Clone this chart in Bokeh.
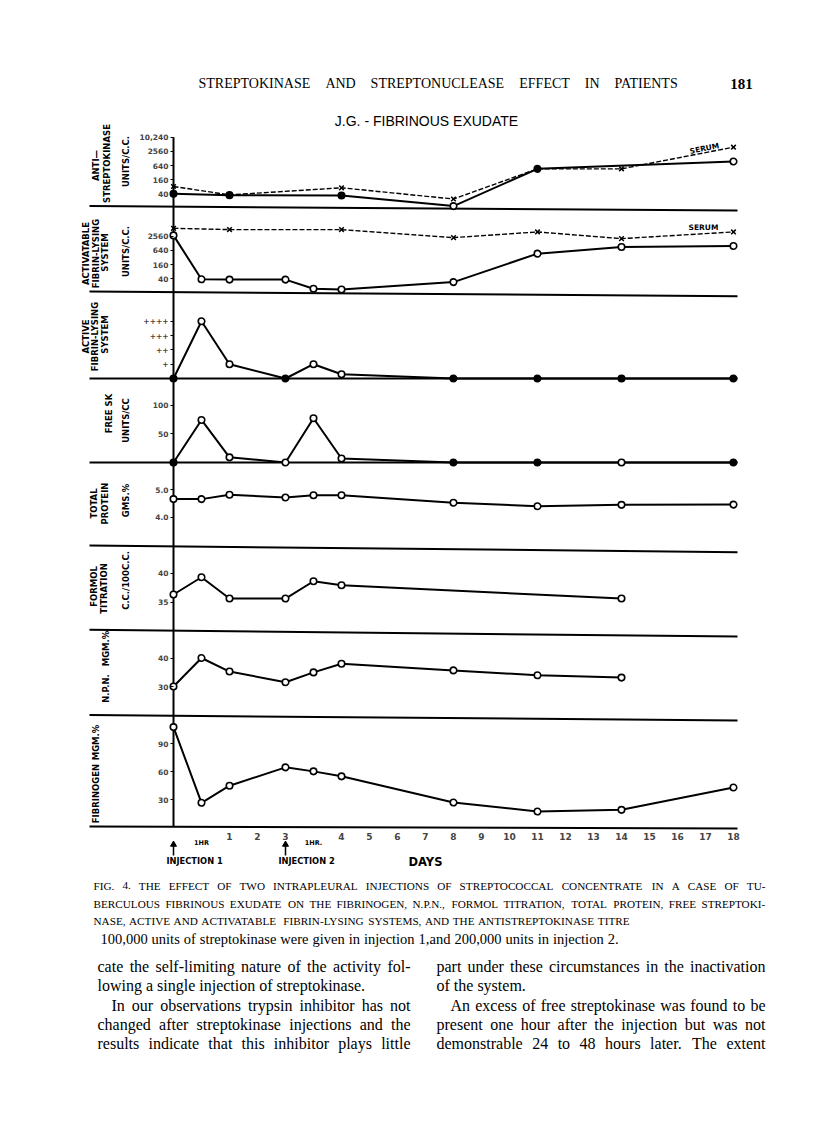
import math
from bokeh.plotting import figure
from bokeh.models import Range1d, LinearAxis, LogAxis, LogScale, FixedTicker
from bokeh.core.properties import value
from bokeh.embed import file_html
from bokeh.resources import INLINE

# ----------------------------------------------------------------- DATA
# ordinal time axis: injection 1, 1 hr later, days 1..3 (injection 2 on day 3), 1 hr later, days 4..18
time_axis = ["0", "1HR", "1", "2", "3", "1HR.", "4", "5", "6", "7", "8", "9",
             "10", "11", "12", "13", "14", "15", "16", "17", "18"]
day_labels = ["1", "2", "3", "4", "5", "6", "7", "8", "9", "10", "11", "12",
              "13", "14", "15", "16", "17", "18"]
hour_labels = ["1HR", "1HR."]
injection_times = ["0", "3"]
injection_labels = ["INJECTION 1", "INJECTION 2"]

sample_times = ["0", "1HR", "1", "3", "1HR.", "4", "8", "11", "14", "18"]

# antistreptokinase (units/cc, log scale)
antisk_times = ["0", "1", "4", "8", "11", "18"]
antisk_exudate = [40, 35, 34, 12, 462, 948]
antisk_exudate_filled = [True, True, True, False, True, False]
antisk_serum_times = ["0", "1", "4", "8", "11", "14", "18"]
antisk_serum = [82, 36, 72, 24, 462, 462, 3850]

# activatable fibrin-lysing system (units/cc, log scale)
activ_exudate = [2800, 38, 37, 37, 15, 14, 29, 468, 900, 992]
activ_exudate_filled = [False, False, False, False, False, False, False, False, False, False]
activ_serum_times = ["0", "1", "4", "8", "11", "14", "18"]
activ_serum = [5600, 4930, 4930, 2250, 3920, 2040, 3920]

# active fibrin-lysing system (grade + .. ++++)
active_lysis = [0, 4, 1, 0, 1, 0.3, 0, 0, 0, 0]
active_filled = [True, False, False, True, False, False, True, True, True, True]

# free streptokinase (units/cc)
free_sk = [0, 74, 9, 0, 77, 7, 0, 0, 0, 0]
free_sk_filled = [True, False, False, False, False, False, True, True, False, True]

# total protein (gms %)
total_protein = [4.66, 4.66, 4.82, 4.72, 4.80, 4.80, 4.53, 4.40, 4.45, 4.46]

# formol titration (cc/100cc)
formol_times = ["0", "1HR", "1", "3", "1HR.", "4", "14"]
formol = [36.3, 39.3, 35.6, 35.6, 38.6, 37.9, 35.6]

# N.P.N. (mgm %)
npn_times = ["0", "1HR", "1", "3", "1HR.", "4", "8", "11", "14"]
npn = [30.1, 40.0, 35.3, 31.6, 35.0, 38.0, 35.7, 34.0, 33.2]

# fibrinogen (mgm %)
fibrinogen = [107.5, 26.8, 45.0, 64.6, 60.3, 55.0, 27.1, 17.5, 19.3, 43.1]

# tick values / labels
antisk_ticks = [40, 160, 640, 2560, 10240]
antisk_tick_labels = ["40", "160", "640", "2560", "10,240"]
activ_ticks = [40, 160, 640, 2560]
activ_tick_labels = ["40", "160", "640", "2560"]
active_ticks = [1, 2, 3, 4]
active_tick_labels = ["+", "++", "+++", "++++"]
free_sk_ticks = [50, 100]
free_sk_tick_labels = ["50", "100"]
protein_ticks = [4.0, 5.0]
protein_tick_labels = ["4.0", "5.0"]
formol_ticks = [35, 40]
formol_tick_labels = ["35", "40"]
npn_ticks = [30, 40]
npn_tick_labels = ["30", "40"]
fib_ticks = [30, 60, 90]
fib_tick_labels = ["30", "60", "90"]

# texts
header_text = "STREPTOKINASE AND STREPTONUCLEASE EFFECT IN PATIENTS"
page_number = "181"
chart_title = "J.G. - FIBRINOUS EXUDATE"
caption_lines = [
    "FIG. 4. THE EFFECT OF TWO INTRAPLEURAL INJECTIONS OF STREPTOCOCCAL CONCENTRATE IN A CASE OF TU-",
    "BERCULOUS FIBRINOUS EXUDATE ON THE FIBRINOGEN, N.P.N., FORMOL TITRATION, TOTAL PROTEIN, FREE STREPTOKI-",
    "NASE, ACTIVE AND ACTIVATABLE FIBRIN-LYSING SYSTEMS, AND THE ANTISTREPTOKINASE TITRE",
]
caption_note = "100,000 units of streptokinase were given in injection 1,and 200,000 units in injection 2."
body_left = [
    "cate the self-limiting nature of the activity fol-",
    "lowing a single injection of streptokinase.",
    "In our observations trypsin inhibitor has not",
    "changed after streptokinase injections and the",
    "results indicate that this inhibitor plays little",
]
body_right = [
    "part under these circumstances in the inactivation",
    "of the system.",
    "An excess of free streptokinase was found to be",
    "present one hour after the injection but was not",
    "demonstrable 24 to 48 hours later. The extent",
]

# ----------------------------------------------------------------- LAYOUT
W, H = 812, 1124
PX_L, PX_T = 0, 0       # the canvas sits at the page origin
PX_R, PX_B = PX_L + W, PX_T + H
AXIS_X = 173.0          # page x of the time origin
SLOT_W = 28.0           # page px per ordinal time slot
FRAME_L, FRAME_R = 89.0, 737.0
AXIS_TOP, AXIS_BOTTOM = 136.7, 826.5

SCALES = {   # kind, value a, page y a, value b, page y b
    "antisk": ("log", 40, 193.3, 10240, 136.7),
    "activ": ("log", 40, 278.3, 2560, 235.8),
    "active": ("lin", 0, 378.0, 4, 320.8),
    "freesk": ("lin", 0, 462.0, 100, 404.5),
    "prot": ("lin", 4.0, 516.7, 5.0, 489.3),
    "formol": ("lin", 35, 601.5, 40, 572.7),
    "npn": ("lin", 30, 686.3, 40, 657.5),
    "fib": ("lin", 30, 799.3, 90, 743.0),
}
SEPARATORS = [(205.5, 210.0), (291.0, 295.7), (545.0, 551.7), (629.3, 636.0),
              (714.5, 720.0), (826.0, 828.0)]

SANS_NAME = "DejaVu Sans"
SANS = value(SANS_NAME)
SERIF = value("Liberation Serif")

TIMES = {' ': 250, ',': 250, '.': 250, '-': 333, ':': 278, ';': 278, '%': 833, '(': 333,
         ')': 333, '/': 278, "'": 333,
         'A': 722, 'B': 667, 'C': 667, 'D': 722, 'E': 611, 'F': 556, 'G': 722, 'H': 722,
         'I': 333, 'J': 389, 'K': 722, 'L': 611, 'M': 889, 'N': 722, 'O': 722, 'P': 556,
         'Q': 722, 'R': 667, 'S': 556, 'T': 611, 'U': 722, 'V': 722, 'W': 944, 'X': 722,
         'Y': 722, 'Z': 611,
         'a': 444, 'b': 500, 'c': 444, 'd': 500, 'e': 444, 'f': 333, 'g': 500, 'h': 500,
         'i': 278, 'j': 278, 'k': 500, 'l': 278, 'm': 778, 'n': 500, 'o': 500, 'p': 500,
         'q': 500, 'r': 333, 's': 389, 't': 278, 'u': 500, 'v': 500, 'w': 722, 'x': 500,
         'y': 500, 'z': 444}


def tw(s, size):
    return sum(TIMES.get(c, 500) for c in s) / 1000.0 * size


def make_range(kind, va, ya, vb, yb):
    f = math.log10 if kind == "log" else (lambda v: v)
    g = (lambda u: 10 ** u) if kind == "log" else (lambda u: u)
    a, b = f(va), f(vb)
    s = (b - a) / (yb - ya)
    return Range1d(start=g(a + s * (PX_B - ya)), end=g(a + s * (PX_T - ya)))


def sx(px):
    return (px - AXIS_X) / SLOT_W


p = figure(width=W, height=H, x_range=Range1d(PX_L, PX_R), y_range=Range1d(PX_B, PX_T),
           x_axis_type=None, y_axis_type=None, toolbar_location=None,
           output_backend="svg", min_border=0, outline_line_color=None,
           background_fill_color="white", border_fill_color="white")
p.title.visible = False
p.extra_x_ranges = {"slots": Range1d(start=sx(PX_L), end=sx(PX_R))}
p.extra_y_ranges = {k: make_range(*v) for k, v in SCALES.items()}
p.extra_y_scales = {k: LogScale() for k, v in SCALES.items() if v[0] == "log"}


def slots(times):
    return [time_axis.index(t) for t in times]


def series(times, vals, panel, filled=None, dashed=False):
    xs = slots(times)
    kw = dict(x_range_name="slots", y_range_name=panel)
    p.line(xs, vals, line_color="black", line_width=1.4 if dashed else 2.0,
           line_dash="5 2" if dashed else "solid", **kw)
    if dashed:
        p.scatter(xs, vals, marker="x", size=6.5, line_color="black", line_width=1.5, **kw)
    else:
        fills = ["black" if f else "white" for f in filled]
        p.scatter(xs, vals, marker="circle", size=6.5, fill_color=fills,
                  line_color="black", line_width=1.6, **kw)


def y_axis(panel, ticks, labels):
    cls = LogAxis if SCALES[panel][0] == "log" else LinearAxis
    ax = cls(x_range_name="slots", y_range_name=panel, fixed_location=0,
             ticker=FixedTicker(ticks=ticks),
             major_label_overrides={t: l for t, l in zip(ticks, labels)},
             axis_line_color=None, major_tick_line_color="black", major_tick_line_width=1.2,
             major_tick_in=0, major_tick_out=3, minor_tick_line_color=None,
             major_label_standoff=2, major_label_text_font=SANS_NAME,
             major_label_text_font_size="7.5px", major_label_text_font_style="bold")
    p.add_layout(ax, "left")


# separators and vertical time axis line
p.segment(x0=[FRAME_L] * len(SEPARATORS), x1=[FRAME_R] * len(SEPARATORS),
          y0=[s[0] for s in SEPARATORS], y1=[s[1] for s in SEPARATORS],
          line_color="black", line_width=2)
for panel in ("active", "freesk"):
    p.segment(x0=[sx(FRAME_L)], x1=[sx(FRAME_R)], y0=[0], y1=[0], line_color="black",
              line_width=2, x_range_name="slots", y_range_name=panel)
p.segment(x0=[0], x1=[0], y0=[AXIS_TOP], y1=[AXIS_BOTTOM], line_color="black",
          line_width=2, x_range_name="slots")

# data series
series(antisk_serum_times, antisk_serum, "antisk", dashed=True)
series(antisk_times, antisk_exudate, "antisk", antisk_exudate_filled)
series(activ_serum_times, activ_serum, "activ", dashed=True)
series(sample_times, activ_exudate, "activ", activ_exudate_filled)
series(sample_times, active_lysis, "active", active_filled)
series(sample_times, free_sk, "freesk", free_sk_filled)
series(sample_times, total_protein, "prot", [False] * len(total_protein))
series(formol_times, formol, "formol", [False] * len(formol))
series(npn_times, npn, "npn", [False] * len(npn))
series(sample_times, fibrinogen, "fib", [False] * len(fibrinogen))

# y axes
y_axis("antisk", antisk_ticks, antisk_tick_labels)
y_axis("activ", activ_ticks, activ_tick_labels)
y_axis("active", active_ticks, active_tick_labels)
y_axis("freesk", free_sk_ticks, free_sk_tick_labels)
y_axis("prot", protein_ticks, protein_tick_labels)
y_axis("formol", formol_ticks, formol_tick_labels)
y_axis("npn", npn_ticks, npn_tick_labels)
y_axis("fib", fib_ticks, fib_tick_labels)

# x axis (days)
day_slots = slots(day_labels)
xa = LinearAxis(x_range_name="slots", fixed_location=AXIS_BOTTOM,
                ticker=FixedTicker(ticks=day_slots),
                major_label_overrides={s: l for s, l in zip(day_slots, day_labels)},
                axis_line_color=None, major_tick_line_color=None, minor_tick_line_color=None,
                major_tick_out=0, major_tick_in=0,
                major_label_standoff=6, major_label_text_font=SANS_NAME,
                major_label_text_font_size="9px", major_label_text_font_style="bold")
p.add_layout(xa, "below")
p.text(x=slots(hour_labels), y=[842, 842], text=hour_labels, x_range_name="slots",
       text_font=SANS, text_font_size="6.5px", text_font_style="bold",
       text_align="center", text_baseline="middle")
inj = slots(injection_times)
p.segment(x0=inj, x1=inj, y0=[855, 855], y1=[845, 845], line_color="black",
          line_width=1.5, x_range_name="slots")
p.scatter(inj, [844, 844], marker="triangle", size=6, color="black", x_range_name="slots")
p.text(x=inj, y=[860, 860], text=injection_labels, x_offset=-7, x_range_name="slots",
       text_font=SANS, text_font_size="8.3px", text_font_style="bold",
       text_align="left", text_baseline="middle")
p.text(x=[425], y=[861], text=["DAYS"], text_font=SANS, text_font_size="11.5px",
       text_font_style="bold", text_align="center", text_baseline="middle")

# chart title and SERUM notes
p.text(x=[426], y=[120], text=[chart_title], text_font=value("Liberation Sans"),
       text_font_size="14px", text_align="center", text_baseline="middle")
p.text(x=[704, 703], y=[148, 227], text=["SERUM", "SERUM"], angle=[0.2, 0.0],
       text_font=SANS, text_font_size="7.5px", text_font_style="bold",
       text_align="center", text_baseline="middle")

# rotated panel labels
panel_labels = [
    ("ANTI\u2014", 95, 165), ("STREPTOKINASE", 106, 163), ("UNITS/C.C.", 125, 161),
    ("ACTIVATABLE", 85, 253), ("FIBRIN-LYSING", 95, 253), ("SYSTEM", 104, 252),
    ("UNITS/C.C.", 125, 251),
    ("ACTIVE", 85, 336), ("FIBRIN-LYSING", 94, 336), ("SYSTEM", 104, 334),
    ("FREE SK", 108, 413), ("UNITS/CC", 125, 420),
    ("TOTAL", 93, 503), ("PROTEIN", 104, 503), ("GMS.%", 125, 500),
    ("FORMOL", 93, 586), ("TITRATION", 103, 588), ("C.C./100C.C.", 125, 580),
    ("N.P.N.", 105, 688), ("MGM.%", 105, 648),
    ("FIBRINOGEN", 95, 793), ("MGM.%", 95, 742),
]
p.text(x=[l[1] for l in panel_labels], y=[l[2] for l in panel_labels],
       text=[l[0] for l in panel_labels], angle=math.pi / 2,
       text_font=SANS, text_font_size="8.5px", text_font_style="bold",
       text_align="center", text_baseline="middle")


# page texts, word-placed to imitate justified setting
def place(lines, size, font=SERIF, style="normal"):
    xs, ys, ts = [], [], []
    for line, x0, y, x1, gap in lines:
        words = line.split(" ")
        widths = [tw(w, size) for w in words]
        if x1 is not None and len(words) > 1:
            g = max(2.0, (x1 - x0 - sum(widths)) / (len(words) - 1))
        elif gap is not None:
            g = gap
        else:
            g = tw(" ", size)
        x = x0
        for w, wd in zip(words, widths):
            xs.append(x); ys.append(y); ts.append(w)
            x += wd + g
    p.text(x=xs, y=ys, text=ts, text_font=font, text_font_size=f"{size}px",
           text_font_style=style, text_align="left", text_baseline="middle")


place([(header_text, 198, 83, 680, None)], 14)
p.text(x=[741], y=[83], text=[page_number], text_font=SERIF, text_font_size="15px",
       text_font_style="bold", text_align="center", text_baseline="middle")
place([(caption_lines[0], 93, 885, 765, None),
       (caption_lines[1], 93, 903, 765, None),
       (caption_lines[2], 93, 920, None, 3.5)], 11.2)
place([(caption_note, 100, 938, 618, None)], 14.5)
place([(body_left[0], 97, 966, 410, None),
       (body_left[1], 97, 985, None, None),
       (body_left[2], 111, 1005, 410, None),
       (body_left[3], 97, 1024, 410, None),
       (body_left[4], 97, 1043, 410, None),
       (body_right[0], 436, 966, 765, None),
       (body_right[1], 436, 985, None, None),
       (body_right[2], 450, 1005, 765, None),
       (body_right[3], 436, 1024, 765, None),
       (body_right[4], 436, 1043, 765, None)], 16)

open("out.html", "w").write(file_html(p, INLINE))
